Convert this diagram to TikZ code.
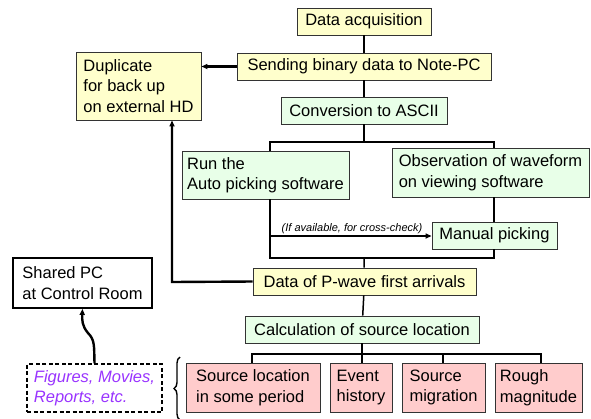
\documentclass[tikz,border=0pt]{standalone}
\usepackage{fontspec}
\setmainfont{Liberation Sans}
\usetikzlibrary{arrows.meta,decorations.pathreplacing}
\definecolor{ylw}{HTML}{FFFFCC}
\definecolor{grn}{HTML}{E8FFE8}
\definecolor{pnk}{HTML}{FFCCCC}
\definecolor{prp}{HTML}{9933FF}
\definecolor{bord}{HTML}{333333}
\begin{document}
\begin{tikzpicture}[x=1pt,y=-1pt,
  every node/.style={font=\fontsize{16.5}{20.5}\selectfont},
  bx/.style={draw=bord, line width=0.9pt, inner sep=0pt, minimum height=27pt, align=left},
  yb/.style={bx, fill=ylw},
  gb/.style={bx, fill=grn},
  pb/.style={bx, fill=pnk, minimum height=49pt},
  ln/.style={line width=1.5pt},
  thk/.style={line width=2.4pt},
  arr/.style={-{Triangle[length=6pt,width=5pt]}}
]
\useasboundingbox (0,0) rectangle (591,418);
% nodes
\node[yb, minimum width=134pt] (acq) at (364,21.5) {Data acquisition};
\node[yb, minimum width=254pt] (send) at (364,66.5) {Sending binary data to Note-PC};
\node[yb, minimum width=125pt, minimum height=68pt] (dup) at (138.5,86) {Duplicate\\for back up\\on external HD};
\node[gb, minimum width=166pt] (conv) at (364,110.5) {Conversion to ASCII};
\node[gb, minimum width=167pt, minimum height=48pt] (run) at (265.5,175) {Run the\\Auto picking software};
\node[gb, minimum width=197pt, minimum height=49pt] (obs) at (490.5,172.5) {Observation of waveform\\on viewing software};
\node[gb, minimum width=125pt] (man) at (494.5,235.5) {Manual picking};
\node[yb, minimum width=223pt] (pw) at (364.5,281.5) {Data of P-wave first arrivals};
\node[gb, minimum width=234pt] (calc) at (362,329.5) {Calculation of source location};
\node[pb, minimum width=134pt] (sl) at (253,387.5) {Source location\\in some period};
\node[pb, minimum width=62pt] (ev) at (361,387.5) {Event\\history};
\node[pb, minimum width=83pt] (sm) at (443.5,387.5) {Source\\migration};
\node[pb, minimum width=87pt] (rm) at (538.5,387.5) {Rough\\magnitude};
\node[draw=black, line width=1.5pt, dash pattern=on 4pt off 2.5pt, fill=white,
      minimum width=135pt, minimum height=48pt, inner sep=0pt, align=left,
      text=prp, font=\fontsize{16.5}{20.5}\selectfont\itshape] (fig) at (94.5,388) {Figures, Movies,\\Reports, etc.};
\node[draw=black, line width=1.8pt, fill=white, minimum width=139pt, minimum height=50pt,
      inner sep=0pt, align=left] (pc) at (82.5,283) {Shared PC\\at Control Room};
% coordinates
\coordinate (b1) at (364,142);
\coordinate (rl) at (270,142);
\coordinate (rr) at (494,142);
\coordinate (cc) at (270,236);
\coordinate (ml) at (270,258);
\coordinate (mr) at (494,258);
\coordinate (mc) at (364,258);
\coordinate (dl) at (172,282);
\coordinate (c1) at (362,354);
\coordinate (hl) at (252,354);
\coordinate (hr) at (541,354);
\coordinate (bt) at (180,420);
\coordinate (bu) at (180,357);
% connectors
\draw[ln] (acq) -- (send);
\draw[ln] (send) -- (conv);
\draw[thk, arr] (send.west) -- (dup.east |- send.west);
\draw[ln] (conv) -- (b1);
\draw[ln] (rl |- run.north) -- (rl) -- (rr) -- (rr |- obs.north);
\draw[ln] (rr |- obs.south) -- (rr |- man.north);
\draw[ln] (rl |- run.south) -- (ml) -- (mr) -- (mr |- man.south);
\draw[ln, arr] (cc) -- (man.west |- cc);
\node[font=\fontsize{11}{13}\selectfont\itshape, anchor=south, inner sep=1pt] (lbl) at (352,234.5) {(If available, for cross-check)};
\draw[ln] (mc) -- (pw);
\draw[thk, arr] (pw.west) -- (dl) -- (dl |- dup.south);
\draw[ln] (pw) -- (calc);
\draw[ln] (calc.south -| c1) -- (c1);
\draw[ln] (hl |- sl.north) -- (hl) -- (hr) -- (hr |- rm.north);
\draw[ln] (c1) -- (c1 |- ev.north);
\draw[ln] (443,354) -- (443,363);
\draw[thk, arr] (fig.north) .. controls (94,346) and (95,340) .. (88,333)
   .. controls (82,326) and (82,320) .. (pc.south);
\draw[line width=1.4pt, decorate, decoration={brace, amplitude=6pt}] (bt) -- (bu);
\end{tikzpicture}
\end{document}
